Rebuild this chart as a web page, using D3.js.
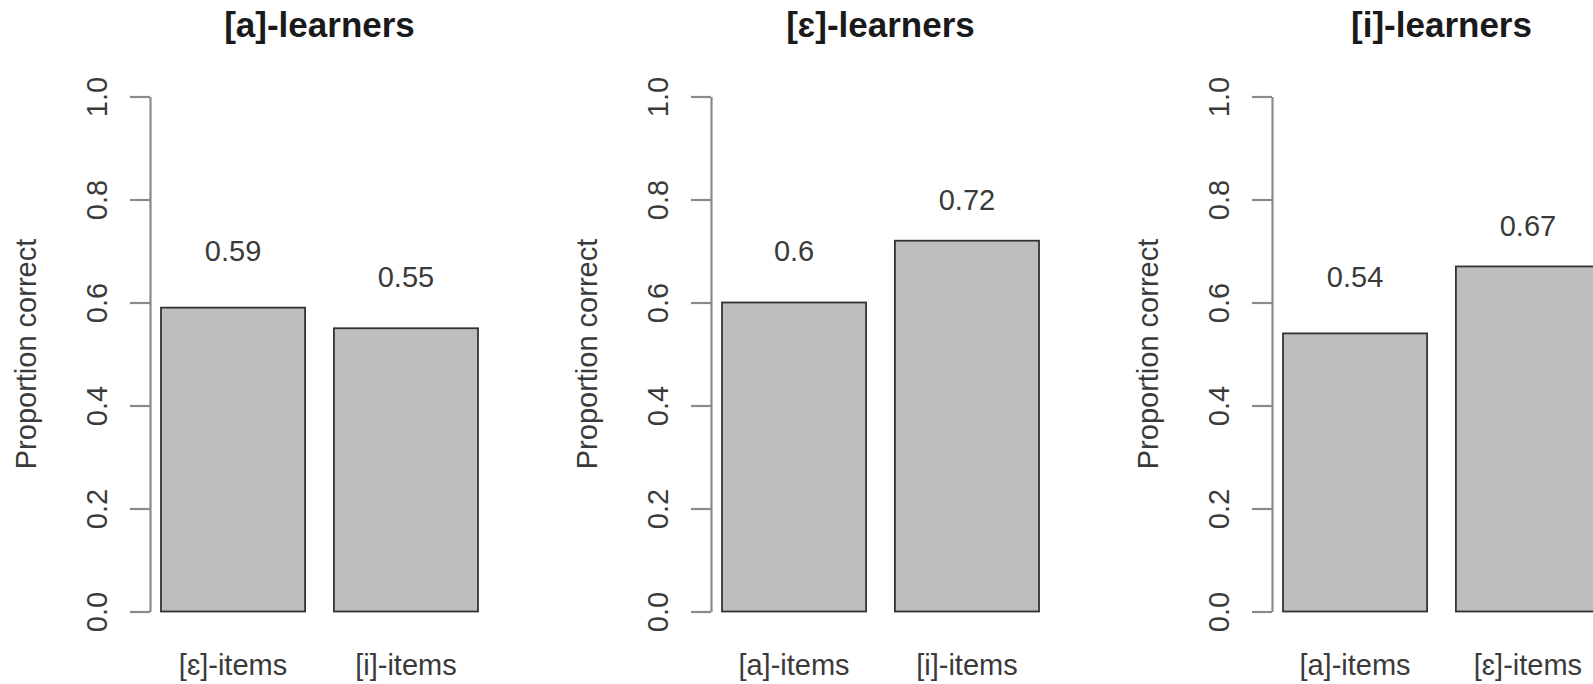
<!DOCTYPE html>
<html>
<head>
<meta charset="utf-8">
<script src="https://cdn.jsdelivr.net/npm/d3@7"></script>
<style>
  html, body { margin: 0; padding: 0; background: #fff; overflow: hidden; }
  svg { display: block; font-family: "Liberation Sans", Arial, Helvetica, sans-serif; }
</style>
</head>
<body>
<svg id="chart" width="1593" height="684"></svg>
<script>
// Proportion correct per learner group, split by test item type
const learnerGroups = ["[a]-learners", "[ɛ]-learners", "[i]-learners"];
const itemLabels = [
  ["[ɛ]-items", "[i]-items"],
  ["[a]-items", "[i]-items"],
  ["[a]-items", "[ɛ]-items"]
];
const proportions = [
  [0.59, 0.55],
  [0.6, 0.72],
  [0.54, 0.67]
];
const yTicks = [0, 0.2, 0.4, 0.6, 0.8, 1.0];
const yAxisTitle = "Proportion correct";

const svg = d3.select("#chart");

// Layout of one panel (repeated horizontally)
const panelStep = 561;
const axisX = 150;
const barsLeft = 161, barsRight = 478;
const plotTop = 96.5, plotBottom = 611.5;
const textColor = "#3a3a3a";
const fontSize = 29;

const y = d3.scaleLinear().domain([0, 1]).range([plotBottom, plotTop]);

// Value labels sit on the nearest 0.05 step about 0.1 above the bar
const labelLevel = v => Math.round((v + 0.1) * 20) / 20;

learnerGroups.forEach((group, i) => {
  const g = svg.append("g").attr("transform", `translate(${i * panelStep},0)`);
  const cats = itemLabels[i];
  const vals = proportions[i];
  const data = cats.map((c, k) => ({ cat: c, value: vals[k] }));

  const x = d3.scaleBand()
    .domain(cats)
    .range([barsLeft, barsRight])
    .paddingInner(0.2 / 1.2)
    .paddingOuter(0);

  // Title
  g.append("text")
    .attr("x", (barsLeft + barsRight) / 2)
    .attr("y", 37)
    .attr("text-anchor", "middle")
    .attr("font-size", 35)
    .attr("font-weight", "bold")
    .attr("fill", "#1a1a1a")
    .text(group);

  // Bars
  g.selectAll("rect.bar")
    .data(data)
    .join("rect")
    .attr("class", "bar")
    .attr("x", d => x(d.cat))
    .attr("width", x.bandwidth())
    .attr("y", d => y(d.value))
    .attr("height", d => y(0) - y(d.value))
    .attr("fill", "#bebebe")
    .attr("stroke", "#333")
    .attr("stroke-width", 1.8);

  // Value labels above bars
  g.selectAll("text.val")
    .data(data)
    .join("text")
    .attr("class", "val")
    .attr("x", d => x(d.cat) + x.bandwidth() / 2)
    .attr("y", d => y(labelLevel(d.value)))
    .attr("dy", "0.36em")
    .attr("text-anchor", "middle")
    .attr("font-size", fontSize)
    .attr("fill", textColor)
    .text(d => String(d.value));

  // Category labels under bars
  g.selectAll("text.cat")
    .data(data)
    .join("text")
    .attr("class", "cat")
    .attr("x", d => x(d.cat) + x.bandwidth() / 2)
    .attr("y", 675)
    .attr("text-anchor", "middle")
    .attr("font-size", fontSize)
    .attr("fill", textColor)
    .text(d => d.cat);

  // Y axis with rotated tick labels
  const axis = g.append("g")
    .attr("transform", `translate(${axisX},0)`)
    .call(d3.axisLeft(y)
      .tickValues(yTicks)
      .tickFormat(d3.format(".1f"))
      .tickSize(20)
      .tickSizeOuter(0));
  axis.select(".domain").attr("stroke", "#8a8a8a").attr("stroke-width", 2.2);
  axis.selectAll(".tick line").attr("stroke", "#8a8a8a").attr("stroke-width", 2.2);
  axis.selectAll(".tick text")
    .attr("transform", "rotate(-90)")
    .attr("x", 0)
    .attr("y", -43)
    .attr("dy", 0)
    .attr("text-anchor", "middle")
    .attr("font-size", fontSize)
    .attr("font-family", null)
    .attr("fill", textColor);

  // Y axis title
  g.append("text")
    .attr("transform", `translate(36,${(plotTop + plotBottom) / 2 + 0}) rotate(-90)`)
    .attr("text-anchor", "middle")
    .attr("font-size", fontSize)
    .attr("fill", textColor)
    .text(yAxisTitle);
});
</script>
</body>
</html>
